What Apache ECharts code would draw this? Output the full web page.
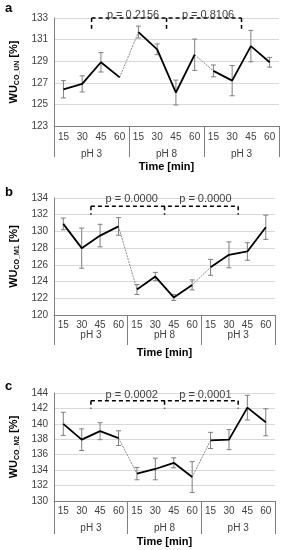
<!DOCTYPE html>
<html><head><meta charset="utf-8">
<script src="https://cdn.jsdelivr.net/npm/echarts@6/dist/echarts.min.js"></script>
<style>html,body{margin:0;padding:0;background:#fff;}#c{width:285px;height:550px;}</style>
</head><body><div id="c"></div>
<script>
// ---- data ----
const cats = ['15','30','45','60','15','30','45','60','15','30','45','60'];
const groups = ['pH 3','pH 8','pH 3'];
const valsA = [126.4,126.9,128.9,127.5,131.7,130.1,126.1,129.6,128.1,127.2,130.4,128.9];
const errA  = [0.8,0.75,0.9,0,0.55,0.5,1.15,1.45,0.55,1.4,1.45,0.45];
const valsB = [130.9,128.0,129.5,130.6,123.05,124.6,122.1,123.6,125.7,127.2,127.6,130.5];
const errB  = [0.7,2.4,1.35,1.05,0.6,0.5,0.35,0.6,0.95,1.55,1.05,1.45];
const valsC = [140.0,137.95,139.05,138.15,133.55,134.15,134.95,133.1,137.85,137.95,142.1,140.2];
const errC  = [1.5,1.4,1.1,0.95,0.8,1.4,0.65,2.0,1.05,1.3,1.6,1.75];
const subNames = ['CO_UN','CO_M1','CO_M2'];
const panelLetters = ['a','b','c'];
const pA = ['p = 0.2156','p = 0.8106'];
const pB = ['p = 0.0000','p = 0.0000'];
const pC = ['p = 0.0002','p = 0.0001'];
const bracketBounds = [1,5,9];   // bracket ticks sit after these category indices
const yMins = [123,120,130];
const yMaxs = [133,134,144];
const yTickStep = [2,2,2];
const bracketLevels = [133,133,143];
const bracketDrop = [1,1,1];

// ---- layout ----
const panels = [
  {vals: valsA, err: errA, p: pA, grid:{left:40,top:18,width:239,height:108}, catM:6, grpM:23, tickL:31, nameGap:35, pOff:-2},
  {vals: valsB, err: errB, p: pB, grid:{left:40,top:198,width:235,height:117}, catM:5, grpM:15, tickL:30, nameGap:32, pOff:2},
  {vals: valsC, err: errC, p: pC, grid:{left:42,top:393,width:233,height:108}, catM:5, grpM:22, tickL:33, nameGap:35, pOff:0}
];
const FONT = 'Liberation Sans';
const grids=[], xAxes=[], yAxes=[], series=[], graphics=[];
panels.forEach((P,i)=>{
  grids.push(Object.assign({containLabel:false}, P.grid));
  xAxes.push({type:'category', gridIndex:i, data:cats, boundaryGap:true,
    axisLine:{lineStyle:{color:'#7f7f7f',width:1}}, axisTick:{show:false},
    axisLabel:{margin:P.catM, fontSize:10, color:'#404040', fontFamily:FONT, interval:0}});
  xAxes.push({type:'category', gridIndex:i, data:groups, position:'bottom', boundaryGap:true,
    axisLine:{show:false}, axisTick:{show:true, length:P.tickL, lineStyle:{color:'#7f7f7f'}},
    axisLabel:{margin:P.grpM, fontSize:10, color:'#404040', fontFamily:FONT, interval:0},
    name:'Time [min]', nameLocation:'middle', nameGap:P.nameGap,
    nameTextStyle:{fontWeight:'bold', fontSize:11, color:'#000', fontFamily:FONT}});
  yAxes.push({type:'value', gridIndex:i, min:yMins[i], max:yMaxs[i], interval:yTickStep[i],
    axisLine:{show:true, lineStyle:{color:'#7f7f7f'}}, axisTick:{show:false},
    splitLine:{lineStyle:{color:'#d9d9d9'}},
    axisLabel:{fontSize:10, color:'#404040', margin:6, fontFamily:FONT},
    name:'{m|WU}{s|'+subNames[i]+'}{m| [%]}', nameLocation:'middle', nameGap:24, nameRotate:90,
    nameTextStyle:{rich:{
      m:{fontSize:11, fontWeight:'bold', color:'#000', fontFamily:FONT, lineHeight:14, verticalAlign:'middle'},
      s:{fontSize:7, fontWeight:'bold', color:'#000', fontFamily:FONT, lineHeight:14, verticalAlign:'bottom'}
    }}});
  // error bars
  series.push({type:'custom', xAxisIndex:2*i, yAxisIndex:i, z:1,
    data:P.vals.map((v,k)=>[k,v,P.err[k]]),
    renderItem:function(params, api){
      const x = api.value(0), v = api.value(1), e = api.value(2);
      if(!e) return null;
      const hi = api.coord([x, v+e]), lo = api.coord([x, v-e]);
      const w = 2.5;
      const st = {stroke:'#7f7f7f', lineWidth:1};
      return {type:'group', children:[
        {type:'line', shape:{x1:hi[0],y1:hi[1],x2:lo[0],y2:lo[1]}, style:st},
        {type:'line', shape:{x1:hi[0]-w,y1:hi[1],x2:hi[0]+w,y2:hi[1]}, style:st},
        {type:'line', shape:{x1:lo[0]-w,y1:lo[1],x2:lo[0]+w,y2:lo[1]}, style:st}
      ]};
    }});
  // connectors between groups
  series.push({type:'line', xAxisIndex:2*i, yAxisIndex:i, z:2, showSymbol:false, symbol:'none',
    data:P.vals.map((v,k)=>[3,4,7,8].includes(k)?v:null), connectNulls:false,
    lineStyle:{color:'#8c8c8c', width:1, type:[2,1]}, animation:false});
  // group lines
  for(let g=0; g<3; g++){
    series.push({type:'line', xAxisIndex:2*i, yAxisIndex:i, z:3, showSymbol:false, symbol:'none',
      data:P.vals.map((v,k)=>Math.floor(k/4)===g?v:null),
      lineStyle:{color:'#000', width:1.8}, animation:false});
  }
  // brackets
  series.push({type:'custom', xAxisIndex:2*i, yAxisIndex:i, z:4,
    data:[[0, bracketLevels[i]]],
    renderItem:function(params, api){
      const lvl = bracketLevels[i];
      const y = api.coord([0,lvl])[1];
      const yd = api.coord([0,lvl-bracketDrop[i]])[1];
      const xs = bracketBounds.map(b=>(api.coord([b,lvl])[0]+api.coord([b+1,lvl])[0])/2);
      const st = {stroke:'#000', lineWidth:1.5, lineDash:[4,3]};
      const ch = [{type:'line', shape:{x1:xs[0],y1:y,x2:xs[xs.length-1],y2:y}, style:st}];
      xs.forEach(x=>ch.push({type:'line', shape:{x1:x,y1:y,x2:x,y2:yd}, style:st}));
      for(let k=0;k<xs.length-1;k++){
        ch.push({type:'text', style:{text:P.p[k], x:(xs[k]+xs[k+1])/2+4, y:y-P.pOff,
          align:'center', verticalAlign:'bottom', textAlign:'center', textVerticalAlign:'bottom',
          fill:'#404040', font:'11px "'+FONT+'"'}});
      }
      return {type:'group', children:ch};
    }});
  graphics.push({type:'text', left:5, top:[2,186,380][i],
    style:{text:panelLetters[i], font:'bold 13px "'+FONT+'"', fill:'#000'}});
});

const chart = echarts.init(document.getElementById('c'), null, {renderer:'canvas'});
chart.setOption({animation:false, backgroundColor:'#fff', textStyle:{fontFamily:FONT},
  grid:grids, xAxis:xAxes, yAxis:yAxes, series:series, graphic:graphics});
</script>
</body></html>
